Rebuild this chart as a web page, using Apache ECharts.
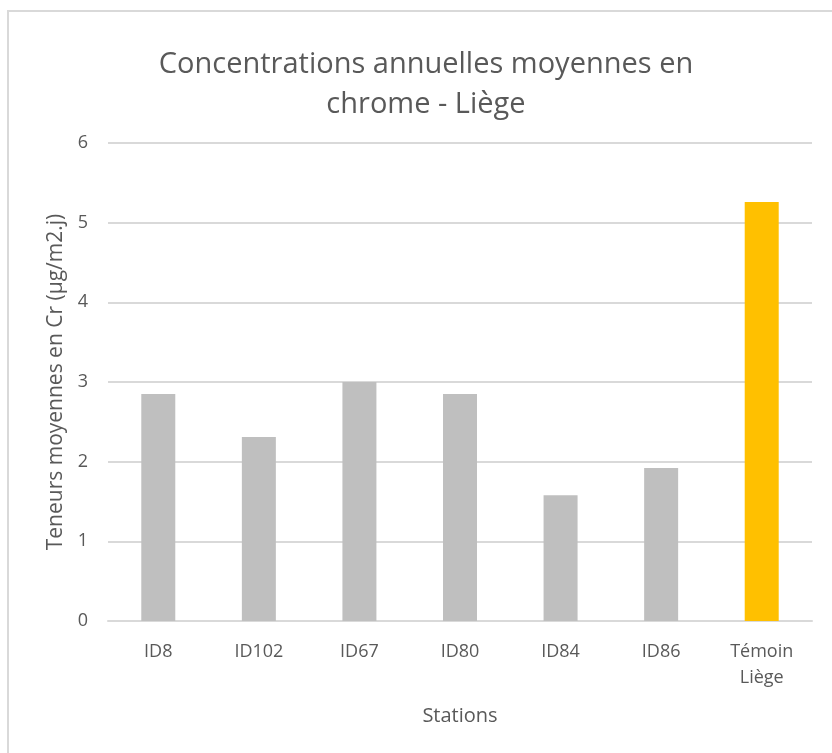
<!DOCTYPE html>
<html>
<head>
<meta charset="utf-8">
<script src="https://cdn.jsdelivr.net/npm/echarts@6/dist/echarts.min.js"></script>
<style>
  html, body { margin: 0; padding: 0; background: #fff; }
  #chart { width: 832px; height: 753px; }
</style>
</head>
<body>
<div id="chart"></div>
<script>
// données
const stations = ['ID8', 'ID102', 'ID67', 'ID80', 'ID84', 'ID86', 'Témoin\nLiège']
const teneurs = [2.85, 2.31, 3.0, 2.85, 1.58, 1.92, 5.26]
const barColors = ['#bfbfbf', '#bfbfbf', '#bfbfbf', '#bfbfbf', '#bfbfbf', '#bfbfbf', '#ffc000']

const fontFam = '"Open Sans", sans-serif'
const textColor = '#595959'

let chart = echarts.init(document.getElementById('chart'))
chart.setOption({
  animation: false,
  graphic: [
    {
      type: 'rect',
      shape: { x: 8, y: 11, width: 900, height: 900 },
      style: { fill: 'none', stroke: '#d9d9d9', lineWidth: 2 },
      silent: true
    }
  ],
  title: {
    text: 'Concentrations annuelles moyennes en\nchrome - Liège',
    left: 421,
    top: 40,
    textAlign: 'center',
    textStyle: {
      fontFamily: fontFam,
      fontWeight: 'normal',
      fontSize: 29,
      lineHeight: 40,
      color: textColor
    }
  },
  grid: {
    left: 108,
    right: 20,
    top: 143,
    bottom: 132
  },
  xAxis: {
    type: 'category',
    data: stations,
    name: 'Stations',
    nameLocation: 'middle',
    nameGap: 85,
    nameTextStyle: { fontFamily: fontFam, fontSize: 20, color: textColor },
    axisLine: { lineStyle: { color: '#d9d9d9', width: 2 } },
    axisTick: { show: false },
    axisLabel: {
      fontFamily: fontFam,
      fontSize: 18,
      color: textColor,
      margin: 18,
      lineHeight: 26,
      interval: 0
    }
  },
  yAxis: {
    type: 'value',
    min: 0,
    max: 6,
    interval: 1,
    name: 'Teneurs moyennes en Cr (µg/m2.j)',
    nameLocation: 'middle',
    nameGap: 40,
    nameTextStyle: { fontFamily: fontFam, fontSize: 21, color: textColor },
    axisLine: { show: false },
    axisTick: { show: false },
    axisLabel: {
      fontFamily: fontFam,
      fontSize: 18,
      color: textColor,
      margin: 20
    },
    splitLine: { lineStyle: { color: '#d9d9d9', width: 2 } }
  },
  series: [
    {
      type: 'bar',
      data: teneurs.map((v, i) => ({ value: v, itemStyle: { color: barColors[i] } })),
      barWidth: 34
    }
  ]
})
</script>
</body>
</html>
